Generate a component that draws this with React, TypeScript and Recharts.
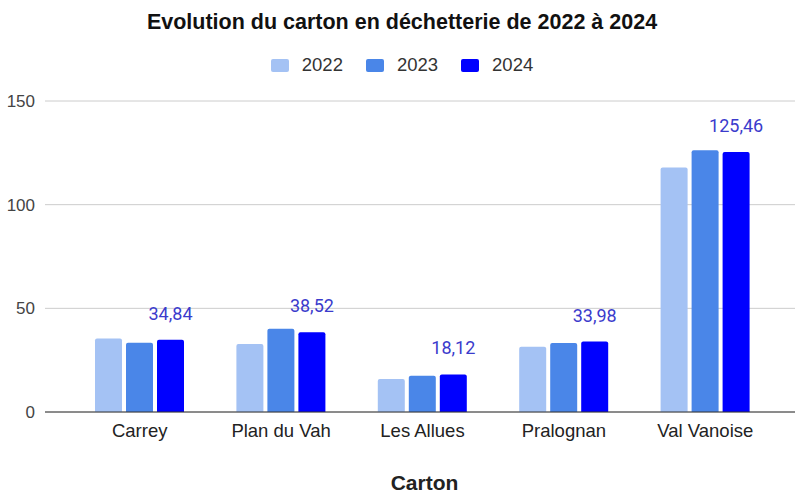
import React from 'react';
import { BarChart, Bar, XAxis, YAxis, CartesianGrid, LabelList } from 'recharts';

const categories = ['Carrey', 'Plan du Vah', 'Les Allues', 'Pralognan', 'Val Vanoise'];
const values2022 = [35.5, 32.8, 15.9, 31.5, 117.9];
const values2023 = [33.4, 40.2, 17.5, 33.3, 126.2];
const values2024 = [34.84, 38.52, 18.12, 33.98, 125.46];
const yTicks = [0, 50, 100, 150];
const seriesKeys = ['2022', '2023', '2024'];
const seriesColors = ['#a4c2f4', '#4a86e8', '#0000ff'];

const data = categories.map((c, i) => ({
  name: c,
  '2022': values2022[i],
  '2023': values2023[i],
  '2024': values2024[i],
}));

const FONT = '"Liberation Sans", Arial, sans-serif';

const fmt = (v: any) => String(v).replace('.', ',');

export default function App() {
  return (
    <div style={{ position: 'absolute', left: 0, top: 0, width: 795, height: 493, background: '#fff', overflow: 'hidden' }}>
      <div style={{ position: 'absolute', left: 0, top: 9, width: 795, textAlign: 'center', fontFamily: FONT, fontWeight: 'bold', fontSize: 21.5, lineHeight: '26px', color: '#111', paddingLeft: 9, boxSizing: 'border-box' }}>
        Evolution du carton en déchetterie de 2022 à 2024
      </div>
      <div style={{ position: 'absolute', left: 0, top: 54, width: 795, height: 22, display: 'flex', justifyContent: 'center', alignItems: 'center', fontFamily: FONT, fontSize: 18.5, color: '#333', paddingLeft: 9, boxSizing: 'border-box' }}>
        {seriesKeys.map((k, i) => (
          <div key={k} style={{ display: 'flex', alignItems: 'center', marginLeft: i === 0 ? 0 : 23 }}>
            <div style={{ width: 18, height: 13, background: seriesColors[i], borderRadius: 2, marginRight: 13 }} />
            <span>{k}</span>
          </div>
        ))}
      </div>
      <div style={{ position: 'absolute', left: 0, top: 471, width: 795, textAlign: 'center', fontFamily: FONT, fontWeight: 'bold', fontSize: 21, lineHeight: '24px', color: '#222', paddingLeft: 54, boxSizing: 'border-box' }}>
        Carton
      </div>
      <BarChart
        width={795}
        height={493}
        data={data}
        margin={{ top: 101, right: 0, bottom: 51, left: 0 }}
        barGap={4}
        barCategoryGap={0}
      >
        <CartesianGrid vertical={false} stroke="#cccccc" />
        <XAxis
          dataKey="name"
          height={30}
          padding={{ left: 24, right: 19 }}
          tickLine={false}
          axisLine={{ stroke: '#333' }}
          tick={{ fill: '#222', fontSize: 18.5, fontFamily: FONT }}
          tickMargin={6}
        />
        <YAxis
          width={45}
          domain={[0, 150]}
          ticks={yTicks}
          axisLine={false}
          tickLine={false}
          tickSize={0}
          tickMargin={10}
          tick={{ fill: '#444', fontSize: 17, fontFamily: FONT }}
        />
        {seriesKeys.map((k, i) => (
          <Bar key={k} dataKey={k} fill={seriesColors[i]} barSize={27} radius={[2, 2, 0, 0]} isAnimationActive={false}>
            {k === '2024' ? (
              <LabelList dataKey={k} position="top" offset={20} formatter={fmt} fill="#3b3bcc" fontSize={18} fontFamily="Roboto, sans-serif" />
            ) : null}
          </Bar>
        ))}
      </BarChart>
    </div>
  );
}
